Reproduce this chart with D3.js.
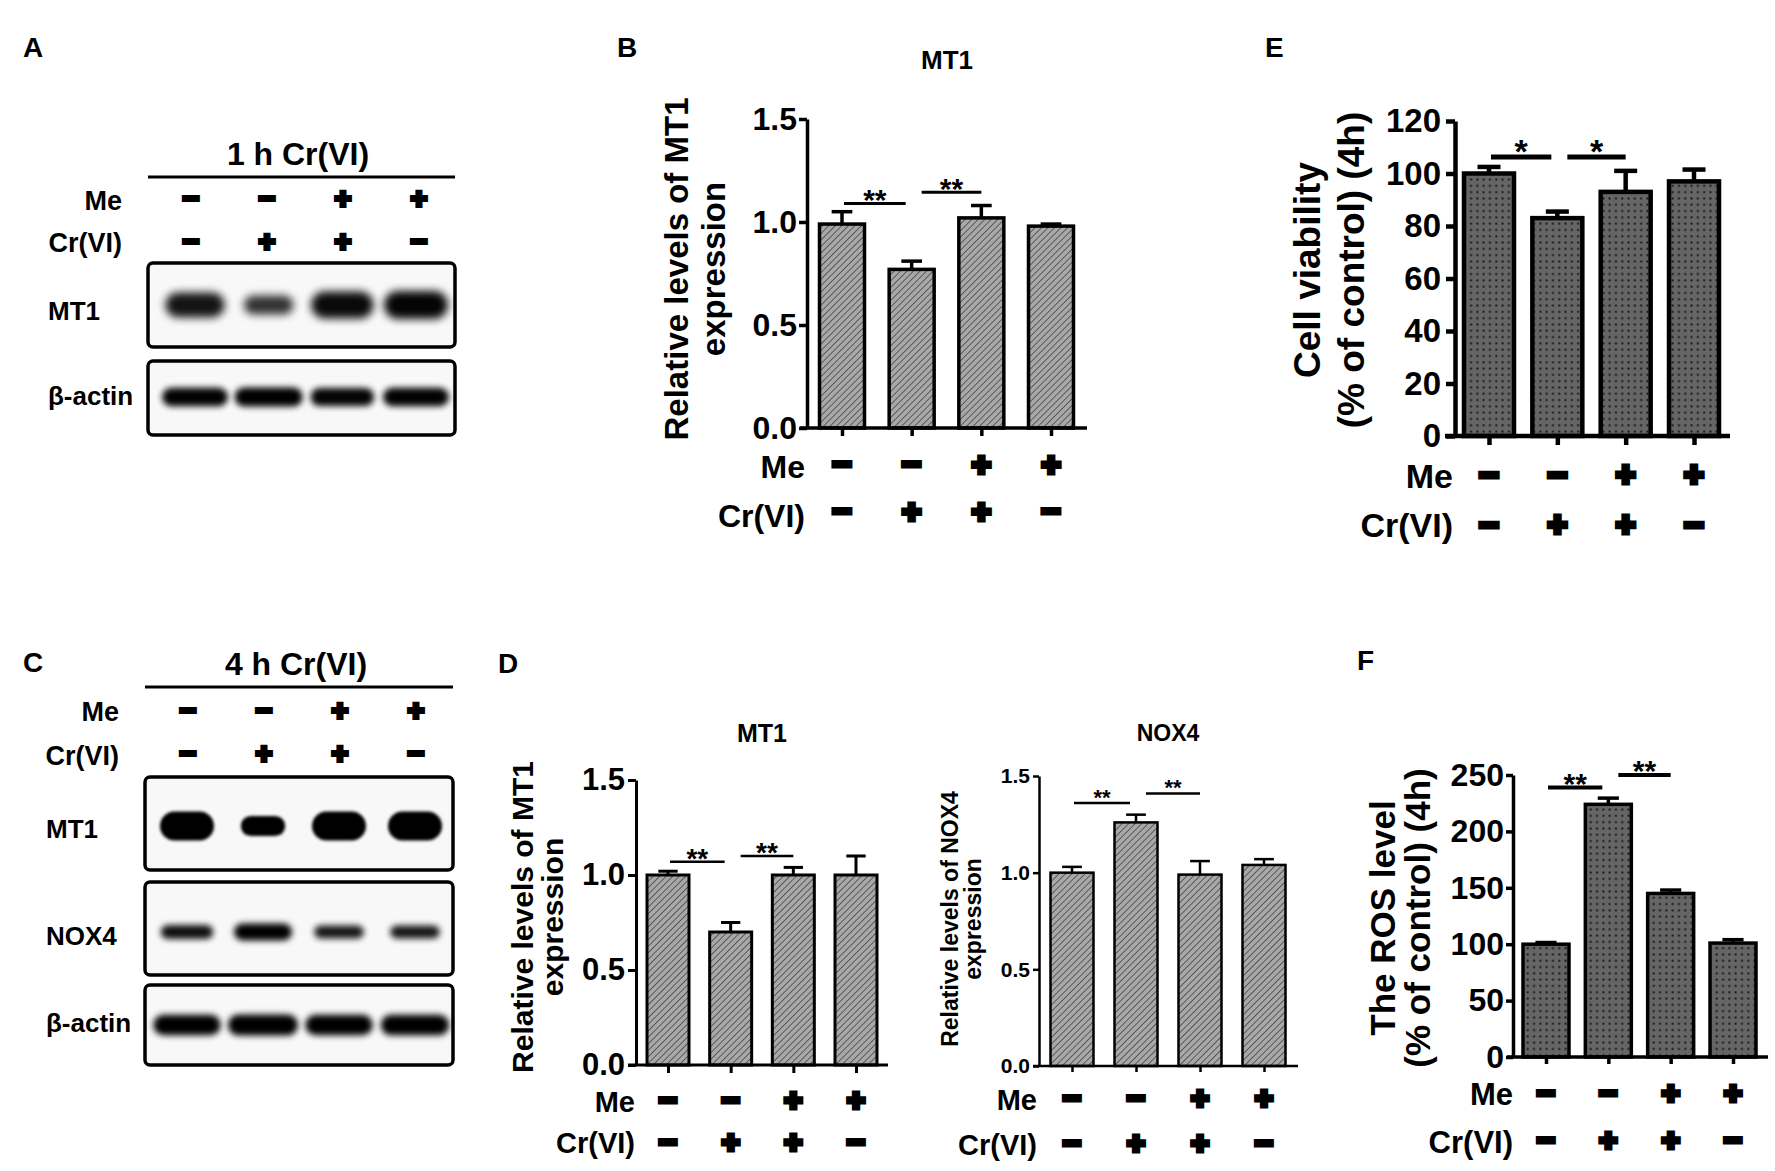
<!DOCTYPE html>
<html lang="en">
<head>
<meta charset="UTF-8">
<title>MT1 / NOX4 / viability / ROS</title>
<script src="https://d3js.org/d3.v7.min.js"></script>
<style>
  body { margin: 0; background: #fff; }
  svg text { font-family: "Liberation Sans", Arial, sans-serif; font-weight: bold; fill: #000; }
</style>
</head>
<body>
<div id="chart"></div>
<script>
// ---- data ----
const groups = ["Control", "Cr(VI)", "Me+Cr(VI)", "Me"];
const meSigns = ["−", "−", "+", "+"];
const crSigns = ["−", "+", "+", "−"];

const ticksRel = [0, 0.5, 1.0, 1.5];
const ticksViability = [0, 20, 40, 60, 80, 100, 120];
const ticksRos = [0, 50, 100, 150, 200, 250];

// B: MT1 after 1 h
const mt1_1h = [0.99, 0.77, 1.02, 0.98];
const mt1_1hErr = [0.06, 0.04, 0.06, 0.01];
// E: cell viability 4 h (% of control)
const viability4h = [100, 83, 93, 97];
const viability4hErr = [2.5, 2.5, 8, 4.5];
// D: MT1 and NOX4 after 4 h
const mt1_4h = [1.00, 0.70, 1.00, 1.00];
const mt1_4hErr = [0.02, 0.05, 0.04, 0.10];
const nox4_4h = [1.00, 1.26, 0.99, 1.04];
const nox4_4hErr = [0.03, 0.04, 0.07, 0.03];
// F: ROS 4 h (% of control)
const ros4h = [100, 224, 145, 101];
const ros4hErr = [1.5, 5.5, 3, 3];

// significance brackets: [from, to, label]
const sigDouble = [[0, 1, "**"], [1, 2, "**"]];
const sigSingle = [[0, 1, "*"], [1, 2, "*"]];

// blot band intensities (relative)
const blotA_MT1 = [0.85, 0.55, 0.95, 1.0];
const blotA_actin = [0.95, 1.0, 0.9, 0.95];
const blotC_MT1 = [1.0, 0.6, 1.0, 1.0];
const blotC_NOX4 = [0.8, 1.0, 0.7, 0.7];
const blotC_actin = [0.95, 1.0, 0.95, 0.97];

// ---- svg ----
const svg = d3.select("#chart").append("svg")
    .attr("width", 1775)
    .attr("height", 1171);

const defs = svg.append("defs");

// diagonal hatch for B / D
const hatch = defs.append("pattern")
    .attr("id", "hatch")
    .attr("patternUnits", "userSpaceOnUse")
    .attr("width", 4.6).attr("height", 4.6)
    .attr("patternTransform", "rotate(45)");
hatch.append("rect").attr("width", 4.6).attr("height", 4.6).attr("fill", "#a8a8a8");
hatch.append("line").attr("x1", 0).attr("y1", 0).attr("x2", 0).attr("y2", 4.6)
    .attr("stroke", "#2e2e2e").attr("stroke-width", 1.3);

// dotted dark fill for E / F
const dots = defs.append("pattern")
    .attr("id", "dots")
    .attr("patternUnits", "userSpaceOnUse")
    .attr("width", 6.3).attr("height", 6.3);
dots.append("rect").attr("width", 6.3).attr("height", 6.3).attr("fill", "#656565");
dots.append("rect").attr("x", 2.2).attr("y", 2.2).attr("width", 1.9).attr("height", 1.9).attr("fill", "#111");

// blur for blot bands
[["blurFuzzy", 4.5], ["blurSoft", 3.2], ["blurHard", 1.6]].forEach(([id, s]) => {
    defs.append("filter").attr("id", id)
        .attr("x", "-50%").attr("y", "-100%").attr("width", "200%").attr("height", "300%")
        .append("feGaussianBlur").attr("stdDeviation", s);
});

// panel letters
const panelLetters = [["A", 23, 57], ["B", 617, 57], ["E", 1265, 57], ["C", 23, 672], ["D", 498, 673], ["F", 1357, 670]];
svg.selectAll(".letter").data(panelLetters).join("text")
    .attr("class", "letter")
    .attr("x", d => d[1]).attr("y", d => d[2])
    .attr("font-size", 28)
    .text(d => d[0]);

function signText(g, signs, xs, cy, fs, sw) {
    g.selectAll(null).data(signs).join("text")
        .attr("x", (d, i) => xs(groups[i]))
        .attr("y", cy + 0.32 * fs)
        .attr("text-anchor", "middle")
        .attr("font-size", fs)
        .attr("stroke", "#000").attr("stroke-width", sw)
        .text(d => d);
}

// ---- western blots ----
function drawBlot(b) {
    const g = svg.append("g");
    const lane = d3.scalePoint().domain(groups).range(b.signRange);
    const bandX = d3.scalePoint().domain(groups).range(b.bandRange);

    g.append("text").attr("x", b.titleX).attr("y", b.titleY)
        .attr("text-anchor", "middle").attr("font-size", 32).text(b.title);
    g.append("line").attr("x1", b.x0).attr("x2", b.x1).attr("y1", b.lineY).attr("y2", b.lineY)
        .attr("stroke", "#000").attr("stroke-width", 3);

    g.append("text").attr("x", b.rowLabelX).attr("y", b.meBase).attr("text-anchor", "end")
        .attr("font-size", 27).text("Me");
    g.append("text").attr("x", b.rowLabelX).attr("y", b.crBase).attr("text-anchor", "end")
        .attr("font-size", 27).text("Cr(VI)");
    signText(g, meSigns, lane, b.meC, 28, 4);
    signText(g, crSigns, lane, b.crC, 28, 4);

    b.rows.forEach(r => {
        g.append("rect")
            .attr("x", b.x0).attr("y", r.y0)
            .attr("width", b.x1 - b.x0).attr("height", r.y1 - r.y0)
            .attr("rx", 5)
            .attr("fill", "#f8f8f8").attr("stroke", "#000").attr("stroke-width", 3.5);
        g.append("text").attr("x", b.labelX).attr("y", r.base)
            .attr("font-size", 26).text(r.label);

        const w = d3.scaleLinear().domain([0.5, 1]).range(r.w);
        const h = d3.scaleLinear().domain([0.5, 1]).range(r.h);
        const op = d3.scaleLinear().domain([0.5, 1]).range(r.op);
        g.selectAll(null).data(r.data).join("rect")
            .attr("x", (d, i) => bandX(groups[i]) - w(d) / 2)
            .attr("y", d => r.cy - h(d) / 2)
            .attr("width", d => w(d))
            .attr("height", d => h(d))
            .attr("rx", d => h(d) / 2)
            .attr("fill", "#000")
            .attr("opacity", d => op(d))
            .attr("filter", `url(#${r.blur})`);
    });
}

drawBlot({
    title: "1 h Cr(VI)", titleX: 298, titleY: 165,
    x0: 148, x1: 455, lineY: 177,
    rowLabelX: 122, meBase: 210, crBase: 252, meC: 199, crC: 242,
    signRange: [191, 419], bandRange: [195, 416], labelX: 48,
    rows: [
        {label: "MT1", y0: 263, y1: 347, base: 320, cy: 305, data: blotA_MT1,
         w: [48, 64], h: [18, 28], op: [0.78, 0.98], blur: "blurFuzzy"},
        {label: "β-actin", y0: 361, y1: 435, base: 405, cy: 397, data: blotA_actin,
         w: [46, 68], h: [15, 19], op: [0.9, 1], blur: "blurSoft"}
    ]
});

drawBlot({
    title: "4 h Cr(VI)", titleX: 296, titleY: 675,
    x0: 145, x1: 453, lineY: 687,
    rowLabelX: 119, meBase: 721, crBase: 765, meC: 711, crC: 754,
    signRange: [188, 416], bandRange: [187, 415], labelX: 46,
    rows: [
        {label: "MT1", y0: 777, y1: 870, base: 838, cy: 826, data: blotC_MT1,
         w: [42, 54], h: [18, 29], op: [1, 1], blur: "blurHard"},
        {label: "NOX4", y0: 882, y1: 975, base: 945, cy: 932, data: blotC_NOX4,
         w: [44, 58], h: [10, 17], op: [0.85, 1], blur: "blurSoft"},
        {label: "β-actin", y0: 985, y1: 1065, base: 1032, cy: 1025, data: blotC_actin,
         w: [44, 70], h: [15, 21], op: [0.95, 1], blur: "blurSoft"}
    ]
});

// ---- bar charts ----
function drawBars(p) {
    const g = svg.append("g");
    const x = d3.scalePoint().domain(groups).range([p.c0, p.c3]);
    const y = d3.scaleLinear().domain([0, p.max]).range([p.yZero, p.yTop]);

    // bars
    g.selectAll(".bar").data(p.values).join("rect")
        .attr("class", "bar")
        .attr("x", (d, i) => x(groups[i]) - p.bw / 2)
        .attr("y", d => y(d))
        .attr("width", p.bw)
        .attr("height", d => y(0) - y(d))
        .attr("fill", `url(#${p.pattern})`)
        .attr("stroke", "#000").attr("stroke-width", p.sw);

    // upper error bars
    const cap = p.bw * 0.46;
    p.values.forEach((v, i) => {
        const cx = x(groups[i]);
        g.append("line").attr("x1", cx).attr("x2", cx)
            .attr("y1", y(v)).attr("y2", y(v + p.errs[i]))
            .attr("stroke", "#000").attr("stroke-width", p.sw);
        g.append("line").attr("x1", cx - cap / 2).attr("x2", cx + cap / 2)
            .attr("y1", y(v + p.errs[i])).attr("y2", y(v + p.errs[i]))
            .attr("stroke", "#000").attr("stroke-width", p.sw);
    });

    // y axis
    const ya = g.append("g")
        .attr("transform", `translate(${p.axisX},0)`)
        .call(d3.axisLeft(y).tickValues(p.ticks).tickFormat(d3.format(p.fmt))
            .tickSize(p.tl).tickSizeOuter(0).tickPadding(p.pad));
    ya.selectAll("path, line").attr("stroke", "#000").attr("stroke-width", p.sw);
    ya.selectAll("text").attr("font-size", p.tickFont).attr("font-family", null).attr("fill", "#000");

    // x axis with category ticks
    const xa = g.append("g")
        .attr("transform", `translate(0,${p.yZero})`)
        .call(d3.axisBottom(x).tickSize(p.tl).tickSizeOuter(0).tickFormat(""));
    xa.select(".domain").remove();
    xa.selectAll("line").attr("stroke", "#000").attr("stroke-width", p.sw);
    g.append("line").attr("x1", p.xLeft).attr("x2", p.xRight)
        .attr("y1", p.yZero).attr("y2", p.yZero)
        .attr("stroke", "#000").attr("stroke-width", p.sw);

    // significance
    p.sigs.forEach((s, k) => {
        const x1 = x(groups[s[0]]) + (k === 0 ? 2 : 10);
        const x2 = x(groups[s[1]]) - (k === 0 ? 6 : 0);
        const ly = y(p.sigLevels[k]);
        g.append("line").attr("x1", x1).attr("x2", x2).attr("y1", ly).attr("y2", ly)
            .attr("stroke", "#000").attr("stroke-width", p.sigW);
        g.append("text").attr("x", (x1 + x2) / 2)
            .attr("y", ly - p.starGap + 0.58 * p.starFont)
            .attr("text-anchor", "middle").attr("font-size", p.starFont)
            .text(s[2]);
    });

    // title
    if (p.title) {
        g.append("text").attr("x", p.titleX).attr("y", p.titleY)
            .attr("text-anchor", "middle").attr("font-size", p.titleFont).text(p.title);
    }

    // y label (rotated)
    p.ylab.forEach(l => {
        g.append("text")
            .attr("transform", `translate(${l.x},${p.ylabCy}) rotate(-90)`)
            .attr("text-anchor", "middle")
            .attr("font-size", p.ylabFont)
            .text(l.t);
    });

    // treatment rows
    g.append("text").attr("x", p.rowLabelX).attr("y", p.meBase).attr("text-anchor", "end")
        .attr("font-size", p.rowFont).text("Me");
    g.append("text").attr("x", p.rowLabelX).attr("y", p.crBase).attr("text-anchor", "end")
        .attr("font-size", p.rowFont).text("Cr(VI)");
    signText(g, meSigns, x, p.meC, p.signFont, 5);
    signText(g, crSigns, x, p.crC, p.signFont, 5);
}

// B
drawBars({
    values: mt1_1h, errs: mt1_1hErr, pattern: "hatch",
    axisX: 807, yTop: 119, yZero: 428, max: 1.5, ticks: ticksRel, fmt: ".1f",
    c0: 842, c3: 1051, bw: 45, xLeft: 800, xRight: 1087, tl: 8, sw: 3.5, tickFont: 32, pad: 2,
    sigs: sigDouble, sigLevels: [1.09, 1.145], sigW: 3, starFont: 30, starGap: 11,
    title: "MT1", titleX: 947, titleY: 69, titleFont: 26,
    ylab: [{t: "Relative levels of MT1", x: 688}, {t: "expression", x: 725}], ylabCy: 269, ylabFont: 33,
    rowLabelX: 805, meBase: 478, crBase: 527, meC: 465, crC: 512, rowFont: 32, signFont: 32
});

// E
drawBars({
    values: viability4h, errs: viability4hErr, pattern: "dots",
    axisX: 1455, yTop: 121, yZero: 436, max: 120, ticks: ticksViability, fmt: "d",
    c0: 1489, c3: 1694, bw: 50, xLeft: 1445, xRight: 1730, tl: 9, sw: 4.5, tickFont: 33, pad: 5,
    sigs: sigSingle, sigLevels: [106.3, 106.3], sigW: 5, starFont: 34, starGap: 14,
    ylab: [{t: "Cell viability", x: 1320}, {t: "(% of control) (4h)", x: 1364}], ylabCy: 270, ylabFont: 37,
    rowLabelX: 1453, meBase: 488, crBase: 537, meC: 475, crC: 525, rowFont: 34, signFont: 33
});

// D left
drawBars({
    values: mt1_4h, errs: mt1_4hErr, pattern: "hatch",
    axisX: 636, yTop: 780, yZero: 1065, max: 1.5, ticks: ticksRel, fmt: ".1f",
    c0: 668, c3: 856, bw: 42, xLeft: 628, xRight: 888, tl: 8, sw: 3, tickFont: 31, pad: 3,
    sigs: sigDouble, sigLevels: [1.07, 1.10], sigW: 2.5, starFont: 28, starGap: 10,
    title: "MT1", titleX: 762, titleY: 742, titleFont: 25,
    ylab: [{t: "Relative levels of MT1", x: 533}, {t: "expression", x: 563}], ylabCy: 917, ylabFont: 30,
    rowLabelX: 635, meBase: 1112, crBase: 1153, meC: 1100, crC: 1142, rowFont: 29, signFont: 30
});

// D right
drawBars({
    values: nox4_4h, errs: nox4_4hErr, pattern: "hatch",
    axisX: 1039, yTop: 776, yZero: 1066, max: 1.5, ticks: ticksRel, fmt: ".1f",
    c0: 1072, c3: 1264, bw: 43, xLeft: 1033, xRight: 1298, tl: 6, sw: 2.5, tickFont: 21, pad: 3,
    sigs: sigDouble, sigLevels: [1.36, 1.41], sigW: 2.5, starFont: 22, starGap: 11,
    title: "NOX4", titleX: 1168, titleY: 741, titleFont: 23,
    ylab: [{t: "Relative levels of NOX4", x: 958}, {t: "expression", x: 981}], ylabCy: 919, ylabFont: 23,
    rowLabelX: 1037, meBase: 1110, crBase: 1155, meC: 1098, crC: 1143, rowFont: 29, signFont: 30
});

// F
drawBars({
    values: ros4h, errs: ros4hErr, pattern: "dots",
    axisX: 1513, yTop: 775, yZero: 1057, max: 250, ticks: ticksRos, fmt: "d",
    c0: 1546, c3: 1733, bw: 46, xLeft: 1507, xRight: 1768, tl: 7, sw: 3.5, tickFont: 32, pad: 2,
    sigs: sigDouble, sigLevels: [239, 250], sigW: 4, starFont: 30, starGap: 11,
    ylab: [{t: "The ROS level", x: 1395}, {t: "(% of control) (4h)", x: 1430}], ylabCy: 918, ylabFont: 35,
    rowLabelX: 1513, meBase: 1105, crBase: 1153, meC: 1093, crC: 1140, rowFont: 31, signFont: 30
});
</script>
</body>
</html>
